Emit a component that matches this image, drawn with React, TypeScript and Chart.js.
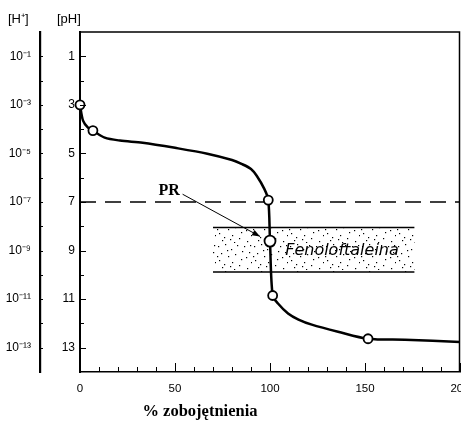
import React, { useEffect, useRef } from "react";
import { Chart, registerables } from "chart.js";

Chart.register(...registerables);

// ---- data ----
const curveX = [0, 1.6, 4.2, 6.8, 13, 21, 33, 50, 67, 80, 85, 90, 93, 97, 99.1, 100, 101.4, 104.2, 109.5, 115, 122, 135.8, 151.6, 171, 200];
const curvePH = [3.0, 3.65, 3.94, 4.06, 4.35, 4.47, 4.56, 4.77, 5.01, 5.27, 5.43, 5.64, 5.92, 6.46, 6.92, 8.61, 10.85, 11.18, 11.59, 11.84, 12.05, 12.34, 12.63, 12.67, 12.76];
const markX = [0, 6.8, 99.1, 100, 101.4, 151.6];
const markPH = [3.0, 4.06, 6.92, 8.61, 10.85, 12.63];
const markR = [4.5, 4.5, 4.5, 5.5, 4.5, 4.5];
const neutralPH = 7;
const indicatorX = [70, 176];
const indicatorPH = [8.05, 9.88];
const indicatorName = "Fenoloftaleina";
const equivLabel = "PR";
const xTickLabels = ["0", "50", "100", "150", "200"];
const phTickLabels = ["1", "3", "5", "7", "9", "11", "13"];
const hTickLabels = ["10⁻¹", "10⁻³", "10⁻⁵", "10⁻⁷", "10⁻⁹", "10⁻¹¹", "10⁻¹³"];
const xTitle = "% zobojętnienia";
const hAxisTitle = "[H⁺]";
const phAxisTitle = "[pH]";

// annotation anchors (data coordinates)
const prAnchor = { x: 52.5, y: 6.55 };
const arrowFrom = { x: 54, y: 6.68 };
const arrowTo = { x: 94.8, y: 8.42 };
const indicatorTextAnchor = { x: 108, y: 9.03 };

const SANS = "'Liberation Sans', Arial, sans-serif";
const SERIF = "'Liberation Serif', 'Times New Roman', serif";

const dots: [number, number][] = [
  [2, 3], [9, 1], [15, 6], [21, 2], [5, 10], [12, 13], [19, 11], [26, 8],
  [30, 14], [3, 17], [8, 21], [16, 19], [23, 22], [28, 3], [33, 9], [35, 19],
  [11, 7], [25, 16], [6, 24], [18, 26], [31, 25], [1, 13], [14, 23], [34, 2],
];

function makePattern(ctx: CanvasRenderingContext2D) {
  const c = document.createElement("canvas");
  c.width = 36;
  c.height = 27;
  const p = c.getContext("2d")!;
  p.fillStyle = "#000";
  for (const [dx, dy] of dots) p.fillRect(dx, dy, 1.2, 1.2);
  return ctx.createPattern(c, "repeat");
}

const decorPlugin = {
  id: "decor",
  beforeDatasetsDraw(chart: any) {
    const { ctx, scales } = chart;
    const x = scales.x, y = scales.y;
    const x0 = x.getPixelForValue(indicatorX[0]);
    const x1 = x.getPixelForValue(indicatorX[1]);
    const y0 = y.getPixelForValue(indicatorPH[0]);
    const y1 = y.getPixelForValue(indicatorPH[1]);
    ctx.save();
    const pat = makePattern(ctx);
    if (pat) {
      ctx.fillStyle = pat;
      ctx.fillRect(x0, y0, x1 - x0, y1 - y0);
    }
    ctx.strokeStyle = "#000";
    ctx.lineWidth = 1.5;
    ctx.beginPath();
    ctx.moveTo(x0, y0);
    ctx.lineTo(x1, y0);
    ctx.moveTo(x0, y1);
    ctx.lineTo(x1, y1);
    ctx.stroke();
    // indicator name
    ctx.fillStyle = "#000";
    ctx.font = `oblique 16px 'DejaVu Sans', sans-serif`;
    ctx.textBaseline = "middle";
    ctx.textAlign = "left";
    ctx.fillText(indicatorName, x.getPixelForValue(indicatorTextAnchor.x), y.getPixelForValue(indicatorTextAnchor.y));
    ctx.restore();
  },
  afterDraw(chart: any) {
    const { ctx, scales, chartArea } = chart;
    const x = scales.x, y = scales.y, yH = scales.yH;
    ctx.save();
    ctx.strokeStyle = "#000";
    ctx.fillStyle = "#000";
    // frame top/right
    ctx.lineWidth = 1.5;
    ctx.beginPath();
    ctx.moveTo(chartArea.left, chartArea.top);
    ctx.lineTo(chartArea.right - 0.5, chartArea.top);
    ctx.lineTo(chartArea.right - 0.5, chartArea.bottom);
    ctx.stroke();
    // x ticks (inward)
    ctx.lineWidth = 1;
    ctx.beginPath();
    for (let v = 10; v <= 200; v += 10) {
      const px = Math.round(x.getPixelForValue(v)) + 0.5;
      const len = v % 50 === 0 ? 9 : 5;
      ctx.moveTo(px, chartArea.bottom);
      ctx.lineTo(px, chartArea.bottom - len);
    }
    // pH ticks
    for (let v = 1; v <= 13; v++) {
      const py = Math.round(y.getPixelForValue(v)) + 0.5;
      const len = v % 2 === 1 ? 6 : 4;
      ctx.moveTo(chartArea.left, py);
      ctx.lineTo(chartArea.left + len, py);
      const hx = yH.right;
      ctx.moveTo(hx, py);
      ctx.lineTo(hx + 3, py);
    }
    ctx.stroke();
    // header labels
    ctx.font = `13px ${SANS}`;
    ctx.textBaseline = "middle";
    ctx.textAlign = "left";
    ctx.fillText(hAxisTitle, 8, 19);
    ctx.fillText(phAxisTitle, 57, 19);
    // x title
    ctx.font = `bold 16.5px ${SERIF}`;
    ctx.textAlign = "center";
    ctx.fillText(xTitle, 200, 412);
    // PR label + arrow
    ctx.font = `bold 16px ${SERIF}`;
    ctx.textAlign = "right";
    ctx.fillText(equivLabel, x.getPixelForValue(prAnchor.x), y.getPixelForValue(prAnchor.y));
    const ax0 = x.getPixelForValue(arrowFrom.x), ay0 = y.getPixelForValue(arrowFrom.y);
    const ax1 = x.getPixelForValue(arrowTo.x), ay1 = y.getPixelForValue(arrowTo.y);
    ctx.lineWidth = 1;
    ctx.beginPath();
    ctx.moveTo(ax0, ay0);
    ctx.lineTo(ax1, ay1);
    ctx.stroke();
    const ang = Math.atan2(ay1 - ay0, ax1 - ax0);
    const hl = 8, hw = 3;
    ctx.beginPath();
    ctx.moveTo(ax1, ay1);
    ctx.lineTo(ax1 - hl * Math.cos(ang) + hw * Math.sin(ang), ay1 - hl * Math.sin(ang) - hw * Math.cos(ang));
    ctx.lineTo(ax1 - hl * Math.cos(ang) - hw * Math.sin(ang), ay1 - hl * Math.sin(ang) + hw * Math.cos(ang));
    ctx.closePath();
    ctx.fill();
    ctx.restore();
  },
};

export default function App() {
  const ref = useRef<HTMLCanvasElement | null>(null);
  useEffect(() => {
    if (!ref.current) return;
    const chart = new Chart(ref.current, {
      type: "line",
      data: {
        datasets: [
          {
            label: "marks",
            data: markX.map((v, i) => ({ x: v, y: markPH[i] })),
            showLine: false,
            pointRadius: markR,
            pointBackgroundColor: "#fff",
            pointBorderColor: "#000",
            pointBorderWidth: 1.8,
            clip: false,
            order: 0,
          } as any,
          {
            label: "curve",
            data: curveX.map((v, i) => ({ x: v, y: curvePH[i] })),
            borderColor: "#000",
            borderWidth: 2.5,
            pointRadius: 0,
            tension: 0.3,
            order: 1,
          },
          {
            label: "neutral",
            data: [
              { x: 0, y: neutralPH },
              { x: 200, y: neutralPH },
            ],
            borderColor: "#000",
            borderWidth: 1.3,
            borderDash: [16, 9],
            pointRadius: 0,
            order: 2,
          },
        ],
      },
      options: {
        responsive: false,
        animation: false,
        layout: { autoPadding: false, padding: { top: 32, right: 1, left: 0, bottom: 0 } },
        plugins: { legend: { display: false }, tooltip: { enabled: false } },
        scales: {
          x: {
            type: "linear",
            min: 0,
            max: 200,
            position: "bottom",
            grid: { display: false, drawTicks: false },
            border: { display: true, color: "#000", width: 1.5 },
            ticks: {
              stepSize: 10,
              autoSkip: false,
              maxRotation: 0,
              padding: 10,
              color: "#000",
              font: { family: SANS, size: 11.5 },
              callback: (v: any) => (v % 50 === 0 ? xTickLabels[v / 50] : ""),
            },
            afterFit: (s: any) => {
              s.height = 56;
              s.paddingLeft = 0;
              s.paddingRight = 0;
            },
          },
          y: {
            type: "linear",
            min: 0,
            max: 14,
            reverse: true,
            position: "left",
            weight: 0,
            grid: { display: false, drawTicks: false },
            border: { display: true, color: "#000", width: 2 },
            ticks: {
              stepSize: 1,
              autoSkip: false,
              padding: 5,
              color: "#000",
              font: { family: SANS, size: 12 },
              callback: (v: any) => (v % 2 === 1 ? phTickLabels[(v - 1) / 2] : ""),
            },
            afterFit: (s: any) => {
              s.width = 40;
              s.paddingTop = 0;
              s.paddingBottom = 0;
            },
          },
          yH: {
            type: "linear",
            min: 0,
            max: 14,
            reverse: true,
            position: "left",
            weight: 1,
            grid: { display: false, drawTicks: false },
            border: { display: true, color: "#000", width: 2.2 },
            ticks: {
              stepSize: 1,
              autoSkip: false,
              padding: 9,
              color: "#000",
              font: { family: SANS, size: 12 },
              callback: (v: any) => (v % 2 === 1 ? hTickLabels[(v - 1) / 2] : ""),
            },
            afterFit: (s: any) => {
              s.width = 40;
              s.paddingTop = 0;
              s.paddingBottom = 0;
            },
          },
        } as any,
      },
      plugins: [decorPlugin],
    });
    return () => chart.destroy();
  }, []);
  return (
    <div style={{ position: "fixed", left: 0, top: 0, width: 461, height: 428, background: "#fff" }}>
      <canvas ref={ref} width={461} height={428} style={{ display: "block" }} />
    </div>
  );
}
